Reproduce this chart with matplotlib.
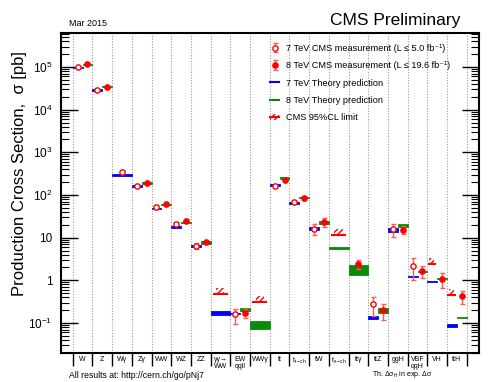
import numpy as np
import matplotlib
matplotlib.use("Agg")
import matplotlib.pyplot as plt
from matplotlib.patches import Patch
from matplotlib.lines import Line2D

plt.rcParams['font.family'] = ['Liberation Sans', 'DejaVu Sans']
plt.rcParams['mathtext.fontset'] = 'custom'
plt.rcParams['mathtext.rm'] = 'Liberation Sans'
plt.rcParams['mathtext.it'] = 'Liberation Sans:italic'
plt.rcParams['mathtext.bf'] = 'Liberation Sans:bold'
plt.rcParams['hatch.linewidth'] = 1.0

N = None
categories = ["W", "Z", "Wγ", "Zγ", "WW", "WZ", "ZZ", "γγ→\nWW", "EW\nqqll", "WWγ",
              "tt", r"t$_{\rm t-ch}$", "tW", r"t$_{\rm s-ch}$", "ttγ", "ttZ", "ggH",
              "VBF\nqqH", "VH", "ttH"]

# 7 TeV measurements: value, low, high
meas7 = [9.8e4, 2.94e4, 346, 160, 52.4, 21.3, 6.4, N, 0.16, N,
         165, 67.5, 16, N, N, 0.28, 15.7, 2.17, N, N]
meas7_lo = [9.4e4, 2.85e4, 310, 150, 48, 19.5, 5.3, N, 0.095, N,
            155, 62, 11.4, N, N, 0.146, 10.2, 1.02, N, N]
meas7_hi = [1.02e5, 3.03e4, 385, 172, 57, 23.2, 7.5, N, 0.21, N,
            176, 73, 20.6, N, N, 0.414, 20.9, 3.29, N, N]

# 8 TeV measurements
meas8 = [1.16e5, 3.45e4, N, 191, 61.5, 25, 7.8, N, 0.174, N,
         228, 83.7, 23.7, N, 2.38, 0.20, 15.1, 1.66, 1.09, 0.42]
meas8_lo = [1.1e5, 3.3e4, N, 180, 57, 23, 7.2, N, 0.13, N,
            215, 78, 18, N, 1.85, 0.12, 12, 1.15, 0.65, 0.275]
meas8_hi = [1.22e5, 3.6e4, N, 203, 66, 27.2, 8.5, N, 0.21, N,
            241, 90, 29.4, N, 3.0, 0.28, 18.8, 2.2, 1.51, 0.57]

# 7 TeV theory band
th7_lo = [9.5e4, 2.8e4, 280, 157, 46, 17.3, 6.1, 0.15, 0.163, N,
          165, 63, 15, N, N, 0.124, 13.8, 1.18, 0.9, 0.079]
th7_hi = [1.01e5, 3.0e4, 315, 170, 50, 18.8, 6.8, 0.19, 0.175, N,
          180, 68, 17.5, N, N, 0.148, 16.6, 1.26, 0.96, 0.095]

# 8 TeV theory band
th8_lo = [1.12e5, 3.35e4, N, 185, 57, 21.5, 7.2, N, 0.195, 0.071,
          240, 84, 21, 5.5, 1.31, 0.175, 17.8, 1.55, 1.06, 0.128]
th8_hi = [1.2e5, 3.55e4, N, 200, 61, 23.3, 8.3, N, 0.229, 0.113,
          260, 90, 25, 5.9, 2.29, 0.22, 21.3, 1.66, 1.14, 0.138]

# CMS 95% CL limits
limit = [N, N, N, N, N, N, N, 0.47, N, 0.316,
         N, N, N, 11.7, N, N, N, N, 2.45, 0.46]

yticks = [0.1, 1, 10, 100, 1e3, 1e4, 1e5]
ytick_labels = [r"$10^{-1}$", "1", "10", r"$10^{2}$", r"$10^{3}$", r"$10^{4}$", r"$10^{5}$"]

BLUE = '#0000ff'
GREEN = '#0a8a0a'
RED = '#ff0000'
ERED = '#ff5a5a'

fig = plt.figure(figsize=(4.91, 3.82), dpi=100)
ax = fig.add_axes([61/491, 1-353/382, (479-61)/491, (353-33)/382])
ax.set_yscale('log')
ax.set_ylim(0.0198, 6.27e5)
ax.set_xlim(-0.594, 20.62)

ncat = len(categories)
for i in range(ncat + 1):
    ax.axvline(i, color='#9a9a9a', ls=(0, (1, 1.5)), lw=0.8, zorder=0)

def isv(v):
    return v is not None

# theory bands
for i in range(ncat):
    both = isv(th7_lo[i]) and isv(th8_lo[i])
    if isv(th7_lo[i]):
        x0, w = i, (0.5 if both else 1.0)
        ax.bar(x0, th7_hi[i]-th7_lo[i], bottom=th7_lo[i], width=w, align='edge',
               color=BLUE, edgecolor=BLUE, lw=0.6, zorder=2)
    if isv(th8_lo[i]):
        x0, w = (i+0.5, 0.5) if both else (i, 1.0)
        ax.bar(x0, th8_hi[i]-th8_lo[i], bottom=th8_lo[i], width=w, align='edge',
               color=GREEN, edgecolor=GREEN, lw=0.6, zorder=2)
    if isv(limit[i]):
        if both:
            xa, xb = i+0.07, i+0.38
            ha, hb = i+0.09, i+0.34
        else:
            xa, xb = i+0.16, i+0.83
            ha, hb = i+0.28, i+0.70
        ax.bar(ha, limit[i]*0.38, bottom=limit[i], width=hb-ha, align='edge',
               facecolor='none', edgecolor=RED, hatch='//////', lw=0, zorder=3)
        ax.plot([xa, xb], [limit[i], limit[i]], color=RED, lw=1.5, zorder=3)

# measurement positions
x7, y7, e7lo, e7hi = [], [], [], []
x8, y8, e8lo, e8hi = [], [], [], []
for i in range(ncat):
    both = isv(th7_lo[i]) and isv(th8_lo[i])
    if isv(meas7[i]):
        x7.append(i + (0.25 if both else 0.5)); y7.append(meas7[i])
        e7lo.append(meas7[i]-meas7_lo[i]); e7hi.append(meas7_hi[i]-meas7[i])
    if isv(meas8[i]):
        x8.append(i + (0.75 if both else 0.5)); y8.append(meas8[i])
        e8lo.append(meas8[i]-meas8_lo[i]); e8hi.append(meas8_hi[i]-meas8[i])

h7 = ax.errorbar(x7, y7, yerr=[e7lo, e7hi], fmt='o', mfc='white', mec=RED, mew=1.0, ms=3.8,
                 ecolor=ERED, elinewidth=1.0, capsize=1.8, capthick=1.0, zorder=5)
h8 = ax.errorbar(x8, y8, yerr=[e8lo, e8hi], fmt='o', mfc=RED, mec=RED, mew=1.0, ms=3.8,
                 ecolor=ERED, elinewidth=1.0, capsize=1.8, capthick=1.0, zorder=5)

# axes styling
for s in ax.spines.values():
    s.set_linewidth(1.5)
ax.set_yticks(yticks)
ax.set_yticklabels(ytick_labels)
ax.tick_params(axis='y', which='major', direction='in', length=12, width=1.0, right=True,
               labelsize=8.5, pad=6)
ax.tick_params(axis='y', which='minor', direction='in', length=6, width=0.8, right=True)
ax.set_xticks(np.arange(ncat + 1))
ax.set_xticklabels([])
ax.tick_params(axis='x', which='major', direction='out', length=9, width=1.0, top=False)
ax.set_xticks(np.arange(ncat) + 0.5, minor=True)
ax.set_xticklabels(categories, minor=True, fontsize=5, linespacing=1.0)
ax.tick_params(axis='x', which='minor', length=0, pad=2)

# legend
hlim = (Patch(facecolor='none', edgecolor=RED, hatch='//////', lw=0),
        Line2D([], [], color=RED, lw=1.5))
handles = [h7, h8, Line2D([], [], color=BLUE, lw=1.5), Line2D([], [], color=GREEN, lw=1.5), hlim]
labels = ["7 TeV CMS measurement (L ≤ 5.0 fb⁻¹)",
          "8 TeV CMS measurement (L ≤ 19.6 fb⁻¹)",
          "7 TeV Theory prediction", "8 TeV Theory prediction", "CMS 95%CL limit"]
ax.legend(handles, labels, loc='upper left', bbox_to_anchor=(270/491, 1-44/382),
          bbox_transform=fig.transFigure, frameon=False, fontsize=6.6, handlelength=1.0,
          handletextpad=0.8, labelspacing=0.9, borderpad=0, borderaxespad=0)

fig.text(460/491, 1-20/382, "CMS Preliminary", ha='right', va='center', fontsize=12.5)
fig.text(69/491, 1-24/382, "Mar 2015", ha='left', va='center', fontsize=6.5)
fig.text(20/491, 1-173.5/382, "Production Cross Section,  σ [pb]", rotation=90,
         ha='center', va='center', fontsize=12)
fig.text(69/491, 1-375/382, "All results at: http://cern.ch/go/pNj7", fontsize=6.2,
         ha='left', va='center')
fig.text(402/491, 1-375/382, r"Th. Δσ$_{\rm H}$ in exp. Δσ", fontsize=5,
         ha='center', va='center')

fig.savefig('out.png', dpi=100)
